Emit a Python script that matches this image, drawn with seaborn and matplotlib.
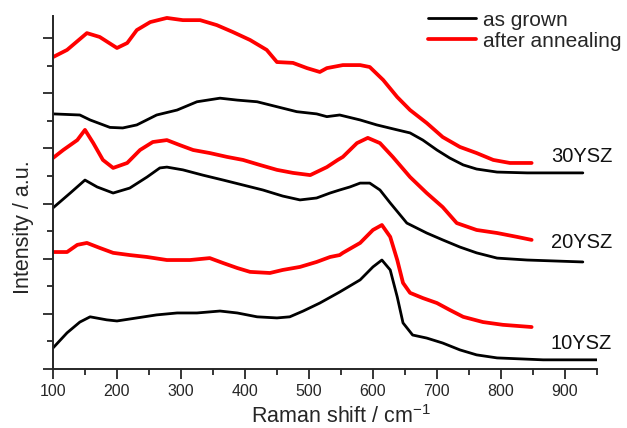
import pandas as pd
import matplotlib.pyplot as plt
import matplotlib.ticker as mticker
import seaborn as sns

# --- dados (Raman shift em cm-1, intensidade em u.a.) ---
x_red30 = [100, 122, 153, 173, 200, 216, 231, 252, 278, 303, 330, 356, 381, 408, 434,
           450, 475, 497, 517, 528, 553, 580, 595, 616, 638, 658, 684, 709, 736, 762,
           788, 814, 848]
y_red30 = [11.31, 11.57, 12.18, 12.04, 11.64, 11.82, 12.29, 12.58, 12.73, 12.65, 12.65,
           12.47, 12.22, 11.93, 11.57, 11.13, 11.10, 10.91, 10.77, 10.91, 11.02, 11.02,
           10.95, 10.48, 9.86, 9.39, 8.92, 8.41, 8.05, 7.83, 7.58, 7.47, 7.47]

x_blk30 = [100, 142, 158, 189, 209, 231, 262, 294, 325, 361, 388, 419, 450, 481, 512,
           528, 548, 580, 606, 638, 658, 678, 700, 720, 741, 762, 794, 841, 928]
y_blk30 = [9.25, 9.21, 9.03, 8.76, 8.74, 8.85, 9.21, 9.39, 9.69, 9.82, 9.75, 9.69, 9.51,
           9.33, 9.25, 9.15, 9.21, 9.03, 8.85, 8.67, 8.56, 8.30, 7.94, 7.65, 7.40, 7.25,
           7.14, 7.11, 7.11]

x_red20 = [100, 116, 138, 150, 163, 178, 194, 216, 236, 256, 278, 298, 319, 345, 372,
           397, 423, 450, 475, 502, 528, 545, 553, 575, 592, 611, 631, 658, 684, 709,
           731, 762, 794, 825, 848]
y_red20 = [7.65, 7.94, 8.30, 8.67, 8.19, 7.58, 7.29, 7.47, 7.94, 8.23, 8.30, 8.12, 7.94,
           7.83, 7.69, 7.58, 7.40, 7.22, 7.11, 7.03, 7.32, 7.58, 7.69, 8.19, 8.38, 8.19,
           7.69, 6.96, 6.38, 5.87, 5.29, 5.04, 4.93, 4.79, 4.68]

x_blk20 = [100, 127, 150, 169, 194, 220, 247, 267, 278, 303, 334, 366, 397, 428, 459,
           486, 512, 533, 548, 564, 580, 595, 611, 627, 653, 684, 709, 736, 762, 794,
           841, 928]
y_blk20 = [5.84, 6.38, 6.85, 6.60, 6.38, 6.56, 6.96, 7.29, 7.32, 7.22, 7.03, 6.85, 6.67,
           6.49, 6.27, 6.13, 6.20, 6.38, 6.49, 6.60, 6.74, 6.74, 6.49, 6.02, 5.29, 4.93,
           4.68, 4.42, 4.21, 4.02, 3.95, 3.88]

x_red10 = [100, 122, 138, 153, 173, 194, 220, 247, 278, 314, 345, 366, 388, 408, 439,
           459, 486, 512, 533, 548, 553, 580, 600, 614, 627, 638, 647, 658, 678, 700,
           720, 741, 772, 803, 848]
y_red10 = [4.24, 4.24, 4.50, 4.57, 4.39, 4.21, 4.13, 4.06, 3.95, 3.95, 4.02, 3.84, 3.66,
           3.52, 3.48, 3.59, 3.70, 3.88, 4.06, 4.13, 4.21, 4.57, 5.04, 5.22, 4.79, 3.95,
           3.12, 2.76, 2.57, 2.39, 2.14, 1.89, 1.70, 1.60, 1.52]

x_blk10 = [100, 122, 142, 158, 184, 200, 231, 262, 294, 325, 361, 388, 419, 450, 470,
           491, 517, 548, 580, 600, 614, 627, 638, 647, 662, 684, 709, 736, 762, 794,
           866, 950]
y_blk10 = [0.76, 1.31, 1.70, 1.89, 1.78, 1.74, 1.85, 1.96, 2.03, 2.03, 2.10, 2.03, 1.89,
           1.85, 1.89, 2.10, 2.39, 2.79, 3.23, 3.70, 3.95, 3.59, 2.61, 1.67, 1.23, 1.12,
           0.94, 0.69, 0.51, 0.40, 0.33, 0.33]

amostras = ["30YSZ", "20YSZ", "10YSZ"]
y_rotulos = [7.72, 4.57, 0.94]

PRETO = "#000000"
VERMELHO = "#FF0000"

sns.set_style("ticks")
plt.rcParams["font.family"] = ["Liberation Sans", "DejaVu Sans"]
plt.rcParams["mathtext.fontset"] = "custom"
plt.rcParams["mathtext.rm"] = "Liberation Sans"

fig = plt.figure(figsize=(6.27, 4.28), dpi=100)
ax = fig.add_axes([0.0845, 0.138, 0.8675, 0.8246])

curvas = [
    (x_red30, y_red30, VERMELHO, 2.7, None),
    (x_blk30, y_blk30, PRETO, 2.0, None),
    (x_red20, y_red20, VERMELHO, 2.7, None),
    (x_blk20, y_blk20, PRETO, 2.0, None),
    (x_red10, y_red10, VERMELHO, 2.7, "after annealing"),
    (x_blk10, y_blk10, PRETO, 2.0, "as grown"),
]
for xs, ys, cor, lw, rot in curvas:
    sns.lineplot(x=xs, y=ys, color=cor, linewidth=lw, sort=False,
                 estimator=None, label=rot, ax=ax, legend=False)

for nome, yy in zip(amostras, y_rotulos):
    ax.text(878, yy, nome, fontsize=14.5, ha="left", va="center", color="#111")

ax.set_xlim(100, 950)
ax.set_ylim(0, 12.8)
ax.xaxis.set_major_locator(mticker.MultipleLocator(100))
ax.xaxis.set_minor_locator(mticker.MultipleLocator(50))
ax.yaxis.set_major_locator(mticker.MultipleLocator(2))
ax.yaxis.set_minor_locator(mticker.MultipleLocator(1))
ax.xaxis.set_major_formatter(mticker.FuncFormatter(
    lambda v, _: f"{v:.0f}" if v <= 900 else ""))
ax.tick_params(which="major", direction="out", length=7, width=1.3, labelsize=11.5)
ax.tick_params(which="minor", direction="out", length=4, width=1.3)
ax.tick_params(axis="y", labelleft=False)
for s in ["left", "bottom"]:
    ax.spines[s].set_linewidth(1.4)
sns.despine(ax=ax)

ax.set_xlabel(r"Raman shift / cm$^{-1}$", fontsize=15.5, labelpad=5)
ax.set_ylabel("Intensity / a.u.", fontsize=15.5, labelpad=6)
ax.xaxis.label.set_x(0.529)
ax.yaxis.label.set_y(0.402)

h, l = ax.get_legend_handles_labels()
ordem = [l.index("as grown"), l.index("after annealing")]
fig.legend([h[i] for i in ordem], [l[i] for i in ordem],
           loc="upper left", bbox_to_anchor=(0.683, 0.975), frameon=False,
           fontsize=15, handlelength=2.3, handletextpad=0.35,
           labelspacing=0.1, borderpad=0, borderaxespad=0)

plt.savefig("out.png", dpi=100)
